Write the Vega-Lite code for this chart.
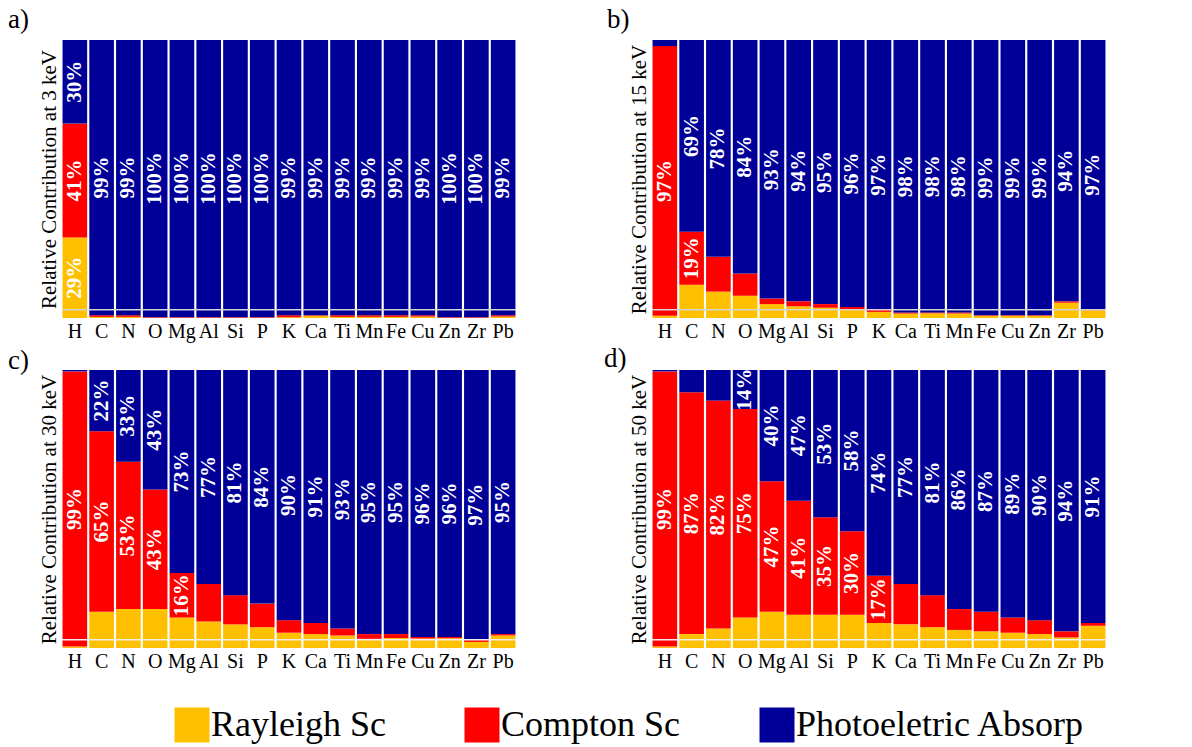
{
  "$schema": "https://vega.github.io/schema/vega-lite/v6.json",
  "background": "white",
  "padding": {"left": 8, "top": 6, "right": 5, "bottom": 5},
  "config": {
    "font": "Liberation Serif",
    "view": {"stroke": null},
    "axis": {"labelFont": "Liberation Serif", "titleFont": "Liberation Serif", "labelColor": "black", "titleColor": "black"},
    "title": {"font": "Liberation Serif", "color": "black", "fontWeight": "normal"}
  },
  "datasets": {
    "contrib": [
      {"p": "a", "el": "H", "R": 0.29, "C": 0.41, "P": 0.30, "lab": "RCP"},
      {"p": "a", "el": "C", "R": 0.004, "C": 0.006, "P": 0.99, "lab": "P"},
      {"p": "a", "el": "N", "R": 0.004, "C": 0.006, "P": 0.99, "lab": "P"},
      {"p": "a", "el": "O", "R": 0.001, "C": 0.002, "P": 0.997, "lab": "P"},
      {"p": "a", "el": "Mg", "R": 0.001, "C": 0.002, "P": 0.997, "lab": "P"},
      {"p": "a", "el": "Al", "R": 0.001, "C": 0.002, "P": 0.997, "lab": "P"},
      {"p": "a", "el": "Si", "R": 0.001, "C": 0.002, "P": 0.997, "lab": "P"},
      {"p": "a", "el": "P", "R": 0.001, "C": 0.002, "P": 0.997, "lab": "P"},
      {"p": "a", "el": "K", "R": 0.003, "C": 0.007, "P": 0.99, "lab": "P"},
      {"p": "a", "el": "Ca", "R": 0.008, "C": 0.002, "P": 0.99, "lab": "P"},
      {"p": "a", "el": "Ti", "R": 0.004, "C": 0.006, "P": 0.99, "lab": "P"},
      {"p": "a", "el": "Mn", "R": 0.004, "C": 0.006, "P": 0.99, "lab": "P"},
      {"p": "a", "el": "Fe", "R": 0.004, "C": 0.006, "P": 0.99, "lab": "P"},
      {"p": "a", "el": "Cu", "R": 0.005, "C": 0.005, "P": 0.99, "lab": "P"},
      {"p": "a", "el": "Zn", "R": 0.001, "C": 0.002, "P": 0.997, "lab": "P"},
      {"p": "a", "el": "Zr", "R": 0.001, "C": 0.002, "P": 0.997, "lab": "P"},
      {"p": "a", "el": "Pb", "R": 0.005, "C": 0.005, "P": 0.99, "lab": "P"},

      {"p": "b", "el": "H", "R": 0.008, "C": 0.97, "P": 0.022, "lab": "C"},
      {"p": "b", "el": "C", "R": 0.12, "C": 0.19, "P": 0.69, "lab": "CP"},
      {"p": "b", "el": "N", "R": 0.095, "C": 0.125, "P": 0.78, "lab": "P"},
      {"p": "b", "el": "O", "R": 0.08, "C": 0.08, "P": 0.84, "lab": "P"},
      {"p": "b", "el": "Mg", "R": 0.05, "C": 0.02, "P": 0.93, "lab": "P"},
      {"p": "b", "el": "Al", "R": 0.042, "C": 0.018, "P": 0.94, "lab": "P"},
      {"p": "b", "el": "Si", "R": 0.037, "C": 0.013, "P": 0.95, "lab": "P"},
      {"p": "b", "el": "P", "R": 0.032, "C": 0.008, "P": 0.96, "lab": "P"},
      {"p": "b", "el": "K", "R": 0.022, "C": 0.008, "P": 0.97, "lab": "P"},
      {"p": "b", "el": "Ca", "R": 0.016, "C": 0.004, "P": 0.98, "lab": "P"},
      {"p": "b", "el": "Ti", "R": 0.017, "C": 0.003, "P": 0.98, "lab": "P"},
      {"p": "b", "el": "Mn", "R": 0.016, "C": 0.004, "P": 0.98, "lab": "P"},
      {"p": "b", "el": "Fe", "R": 0.008, "C": 0.002, "P": 0.99, "lab": "P"},
      {"p": "b", "el": "Cu", "R": 0.008, "C": 0.002, "P": 0.99, "lab": "P"},
      {"p": "b", "el": "Zn", "R": 0.008, "C": 0.002, "P": 0.99, "lab": "P"},
      {"p": "b", "el": "Zr", "R": 0.055, "C": 0.005, "P": 0.94, "lab": "P"},
      {"p": "b", "el": "Pb", "R": 0.028, "C": 0.002, "P": 0.97, "lab": "P"},

      {"p": "c", "el": "H", "R": 0.005, "C": 0.99, "P": 0.005, "lab": "C"},
      {"p": "c", "el": "C", "R": 0.13, "C": 0.65, "P": 0.22, "lab": "CP"},
      {"p": "c", "el": "N", "R": 0.14, "C": 0.53, "P": 0.33, "lab": "CP"},
      {"p": "c", "el": "O", "R": 0.14, "C": 0.43, "P": 0.43, "lab": "CP"},
      {"p": "c", "el": "Mg", "R": 0.11, "C": 0.16, "P": 0.73, "lab": "CP"},
      {"p": "c", "el": "Al", "R": 0.095, "C": 0.135, "P": 0.77, "lab": "P"},
      {"p": "c", "el": "Si", "R": 0.085, "C": 0.105, "P": 0.81, "lab": "P"},
      {"p": "c", "el": "P", "R": 0.075, "C": 0.085, "P": 0.84, "lab": "P"},
      {"p": "c", "el": "K", "R": 0.055, "C": 0.045, "P": 0.90, "lab": "P"},
      {"p": "c", "el": "Ca", "R": 0.05, "C": 0.04, "P": 0.91, "lab": "P"},
      {"p": "c", "el": "Ti", "R": 0.045, "C": 0.025, "P": 0.93, "lab": "P"},
      {"p": "c", "el": "Mn", "R": 0.033, "C": 0.017, "P": 0.95, "lab": "P"},
      {"p": "c", "el": "Fe", "R": 0.036, "C": 0.014, "P": 0.95, "lab": "P"},
      {"p": "c", "el": "Cu", "R": 0.034, "C": 0.006, "P": 0.96, "lab": "P"},
      {"p": "c", "el": "Zn", "R": 0.035, "C": 0.005, "P": 0.96, "lab": "P"},
      {"p": "c", "el": "Zr", "R": 0.022, "C": 0.008, "P": 0.97, "lab": "P"},
      {"p": "c", "el": "Pb", "R": 0.045, "C": 0.005, "P": 0.95, "lab": "P"},

      {"p": "d", "el": "H", "R": 0.005, "C": 0.99, "P": 0.005, "lab": "C"},
      {"p": "d", "el": "C", "R": 0.05, "C": 0.87, "P": 0.08, "lab": "C"},
      {"p": "d", "el": "N", "R": 0.07, "C": 0.82, "P": 0.11, "lab": "C"},
      {"p": "d", "el": "O", "R": 0.11, "C": 0.75, "P": 0.14, "lab": "CP"},
      {"p": "d", "el": "Mg", "R": 0.13, "C": 0.47, "P": 0.40, "lab": "CP"},
      {"p": "d", "el": "Al", "R": 0.12, "C": 0.41, "P": 0.47, "lab": "CP"},
      {"p": "d", "el": "Si", "R": 0.12, "C": 0.35, "P": 0.53, "lab": "CP"},
      {"p": "d", "el": "P", "R": 0.12, "C": 0.30, "P": 0.58, "lab": "CP"},
      {"p": "d", "el": "K", "R": 0.09, "C": 0.17, "P": 0.74, "lab": "CP"},
      {"p": "d", "el": "Ca", "R": 0.085, "C": 0.145, "P": 0.77, "lab": "P"},
      {"p": "d", "el": "Ti", "R": 0.075, "C": 0.115, "P": 0.81, "lab": "P"},
      {"p": "d", "el": "Mn", "R": 0.065, "C": 0.075, "P": 0.86, "lab": "P"},
      {"p": "d", "el": "Fe", "R": 0.06, "C": 0.07, "P": 0.87, "lab": "P"},
      {"p": "d", "el": "Cu", "R": 0.055, "C": 0.055, "P": 0.89, "lab": "P"},
      {"p": "d", "el": "Zn", "R": 0.05, "C": 0.05, "P": 0.90, "lab": "P"},
      {"p": "d", "el": "Zr", "R": 0.038, "C": 0.022, "P": 0.94, "lab": "P"},
      {"p": "d", "el": "Pb", "R": 0.08, "C": 0.01, "P": 0.91, "lab": "P"}
    ]
  },
  "columns": 2,
  "spacing": {"row": 4, "column": 87},
  "concat": [
    {
      "title": {"text": "a)", "anchor": "start", "frame": "group", "dx": -54, "offset": 6, "fontSize": 27, "font": "Liberation Serif"},
      "width": 454, "height": 278,
      "data": {"name": "contrib"},
      "transform": [
        {"filter": "datum.p == 'a'"},
        {"fold": ["R", "C", "P"], "as": ["type", "v"]},
        {"stack": "v", "groupby": ["el"], "as": ["y0", "y1"]}
      ],
      "layer": [
        {
          "mark": {"type": "bar"},
          "encoding": {
            "x": {"field": "el", "type": "nominal", "sort": null, "scale": {"paddingInner": 0.08, "paddingOuter": 0.02},
                  "axis": {"title": null, "labelAngle": 0, "labelFontSize": 20, "labelFont": "Liberation Serif", "labelColor": "black", "ticks": false, "domain": false, "labelPadding": 3}},
            "y": {"field": "y0", "type": "quantitative", "scale": {"domain": [0, 1], "nice": false},
                  "title": "Relative Contribution at 3 keV",
                  "axis": {"labels": false, "ticks": false, "domain": false, "grid": false, "titleFont": "Liberation Serif", "titleColor": "black", "titleFontSize": 21, "titleFontWeight": "normal", "titlePadding": 3}},
            "y2": {"field": "y1"},
            "color": {"field": "type", "type": "nominal",
                      "scale": {"domain": ["R", "C", "P"], "range": ["#FFC000", "#FF0000", "#000099"]},
                      "legend": {"orient": "none", "legendX": 112, "legendY": 667, "direction": "horizontal", "title": null,
                                 "symbolType": "square", "symbolSize": 1225, "symbolStrokeWidth": 0, "symbolOpacity": 1,
                                 "labelFontSize": 36, "labelFont": "Liberation Serif", "labelColor": "black", "labelOffset": 1,
                                 "columnPadding": 78, "labelLimit": 400,
                                 "labelExpr": "datum.label == 'R' ? 'Rayleigh Sc' : datum.label == 'C' ? 'Compton Sc' : 'Photoeletric Absorp'"}}
          }
        },
        {
          "transform": [
            {"filter": "indexof(datum.lab, datum.type) >= 0"},
            {"fold": ["y0", "y1"], "as": ["edge", "pos"]}
          ],
          "mark": {"type": "text", "angle": 270, "color": "white", "font": "Liberation Serif", "fontWeight": "bold", "fontSize": 21, "align": "center", "baseline": "middle"},
          "encoding": {
            "x": {"field": "el", "type": "nominal", "sort": null},
            "y": {"aggregate": "mean", "field": "pos", "type": "quantitative", "title": "Relative Contribution at 3 keV"},
            "text": {"field": "v", "type": "quantitative", "format": ".0%"},
            "detail": {"field": "type"}
          }
        },
        {
          "data": {"values": [{}]},
          "mark": {"type": "rule", "color": "#d4d4d4", "strokeWidth": 1.5},
          "encoding": {"y": {"datum": 0.03}}
        }
      ]
    },
    {
      "title": {"text": "b)", "anchor": "start", "frame": "group", "dx": -45, "offset": 6, "fontSize": 27, "font": "Liberation Serif"},
      "width": 454, "height": 278,
      "data": {"name": "contrib"},
      "transform": [
        {"filter": "datum.p == 'b'"},
        {"fold": ["R", "C", "P"], "as": ["type", "v"]},
        {"stack": "v", "groupby": ["el"], "as": ["y0", "y1"]}
      ],
      "layer": [
        {
          "mark": {"type": "bar"},
          "encoding": {
            "x": {"field": "el", "type": "nominal", "sort": null, "scale": {"paddingInner": 0.08, "paddingOuter": 0.02},
                  "axis": {"title": null, "labelAngle": 0, "labelFontSize": 20, "labelFont": "Liberation Serif", "labelColor": "black", "ticks": false, "domain": false, "labelPadding": 3}},
            "y": {"field": "y0", "type": "quantitative", "scale": {"domain": [0, 1], "nice": false},
                  "title": "Relative Contribution at 15 keV",
                  "axis": {"labels": false, "ticks": false, "domain": false, "grid": false, "titleFont": "Liberation Serif", "titleColor": "black", "titleFontSize": 21, "titleFontWeight": "normal", "titlePadding": 3}},
            "y2": {"field": "y1"},
            "color": {"field": "type", "type": "nominal",
                      "scale": {"domain": ["R", "C", "P"], "range": ["#FFC000", "#FF0000", "#000099"]},
                      "legend": {"orient": "none", "legendX": 112, "legendY": 667, "direction": "horizontal", "title": null,
                                 "symbolType": "square", "symbolSize": 1225, "symbolStrokeWidth": 0, "symbolOpacity": 1,
                                 "labelFontSize": 36, "labelFont": "Liberation Serif", "labelColor": "black", "labelOffset": 1,
                                 "columnPadding": 78, "labelLimit": 400,
                                 "labelExpr": "datum.label == 'R' ? 'Rayleigh Sc' : datum.label == 'C' ? 'Compton Sc' : 'Photoeletric Absorp'"}}
          }
        },
        {
          "transform": [
            {"filter": "indexof(datum.lab, datum.type) >= 0"},
            {"fold": ["y0", "y1"], "as": ["edge", "pos"]}
          ],
          "mark": {"type": "text", "angle": 270, "color": "white", "font": "Liberation Serif", "fontWeight": "bold", "fontSize": 21, "align": "center", "baseline": "middle"},
          "encoding": {
            "x": {"field": "el", "type": "nominal", "sort": null},
            "y": {"aggregate": "mean", "field": "pos", "type": "quantitative", "title": "Relative Contribution at 15 keV"},
            "text": {"field": "v", "type": "quantitative", "format": ".0%"},
            "detail": {"field": "type"}
          }
        },
        {
          "data": {"values": [{}]},
          "mark": {"type": "rule", "color": "#d4d4d4", "strokeWidth": 1.5},
          "encoding": {"y": {"datum": 0.03}}
        }
      ]
    },
    {
      "title": {"text": "c)", "anchor": "start", "frame": "group", "dx": -54, "offset": -5, "fontSize": 27, "font": "Liberation Serif"},
      "width": 454, "height": 278,
      "data": {"name": "contrib"},
      "transform": [
        {"filter": "datum.p == 'c'"},
        {"fold": ["R", "C", "P"], "as": ["type", "v"]},
        {"stack": "v", "groupby": ["el"], "as": ["y0", "y1"]}
      ],
      "layer": [
        {
          "mark": {"type": "bar"},
          "encoding": {
            "x": {"field": "el", "type": "nominal", "sort": null, "scale": {"paddingInner": 0.08, "paddingOuter": 0.02},
                  "axis": {"title": null, "labelAngle": 0, "labelFontSize": 20, "labelFont": "Liberation Serif", "labelColor": "black", "ticks": false, "domain": false, "labelPadding": 3}},
            "y": {"field": "y0", "type": "quantitative", "scale": {"domain": [0, 1], "nice": false},
                  "title": "Relative Contribution at 30 keV",
                  "axis": {"labels": false, "ticks": false, "domain": false, "grid": false, "titleFont": "Liberation Serif", "titleColor": "black", "titleFontSize": 21, "titleFontWeight": "normal", "titlePadding": 3}},
            "y2": {"field": "y1"},
            "color": {"field": "type", "type": "nominal",
                      "scale": {"domain": ["R", "C", "P"], "range": ["#FFC000", "#FF0000", "#000099"]},
                      "legend": {"orient": "none", "legendX": 112, "legendY": 667, "direction": "horizontal", "title": null,
                                 "symbolType": "square", "symbolSize": 1225, "symbolStrokeWidth": 0, "symbolOpacity": 1,
                                 "labelFontSize": 36, "labelFont": "Liberation Serif", "labelColor": "black", "labelOffset": 1,
                                 "columnPadding": 78, "labelLimit": 400,
                                 "labelExpr": "datum.label == 'R' ? 'Rayleigh Sc' : datum.label == 'C' ? 'Compton Sc' : 'Photoeletric Absorp'"}}
          }
        },
        {
          "transform": [
            {"filter": "indexof(datum.lab, datum.type) >= 0"},
            {"fold": ["y0", "y1"], "as": ["edge", "pos"]}
          ],
          "mark": {"type": "text", "angle": 270, "color": "white", "font": "Liberation Serif", "fontWeight": "bold", "fontSize": 21, "align": "center", "baseline": "middle"},
          "encoding": {
            "x": {"field": "el", "type": "nominal", "sort": null},
            "y": {"aggregate": "mean", "field": "pos", "type": "quantitative", "title": "Relative Contribution at 30 keV"},
            "text": {"field": "v", "type": "quantitative", "format": ".0%"},
            "detail": {"field": "type"}
          }
        },
        {
          "data": {"values": [{}]},
          "mark": {"type": "rule", "color": "#eeeeee", "strokeWidth": 1.5},
          "encoding": {"y": {"datum": 0.03}}
        }
      ]
    },
    {
      "title": {"text": "d)", "anchor": "start", "frame": "group", "dx": -48, "offset": -5, "fontSize": 27, "font": "Liberation Serif"},
      "width": 454, "height": 278,
      "data": {"name": "contrib"},
      "transform": [
        {"filter": "datum.p == 'd'"},
        {"fold": ["R", "C", "P"], "as": ["type", "v"]},
        {"stack": "v", "groupby": ["el"], "as": ["y0", "y1"]}
      ],
      "layer": [
        {
          "mark": {"type": "bar"},
          "encoding": {
            "x": {"field": "el", "type": "nominal", "sort": null, "scale": {"paddingInner": 0.08, "paddingOuter": 0.02},
                  "axis": {"title": null, "labelAngle": 0, "labelFontSize": 20, "labelFont": "Liberation Serif", "labelColor": "black", "ticks": false, "domain": false, "labelPadding": 3}},
            "y": {"field": "y0", "type": "quantitative", "scale": {"domain": [0, 1], "nice": false},
                  "title": "Relative Contribution at 50 keV",
                  "axis": {"labels": false, "ticks": false, "domain": false, "grid": false, "titleFont": "Liberation Serif", "titleColor": "black", "titleFontSize": 21, "titleFontWeight": "normal", "titlePadding": 3}},
            "y2": {"field": "y1"},
            "color": {"field": "type", "type": "nominal",
                      "scale": {"domain": ["R", "C", "P"], "range": ["#FFC000", "#FF0000", "#000099"]},
                      "legend": {"orient": "none", "legendX": 112, "legendY": 667, "direction": "horizontal", "title": null,
                                 "symbolType": "square", "symbolSize": 1225, "symbolStrokeWidth": 0, "symbolOpacity": 1,
                                 "labelFontSize": 36, "labelFont": "Liberation Serif", "labelColor": "black", "labelOffset": 1,
                                 "columnPadding": 78, "labelLimit": 400,
                                 "labelExpr": "datum.label == 'R' ? 'Rayleigh Sc' : datum.label == 'C' ? 'Compton Sc' : 'Photoeletric Absorp'"}}
          }
        },
        {
          "transform": [
            {"filter": "indexof(datum.lab, datum.type) >= 0"},
            {"fold": ["y0", "y1"], "as": ["edge", "pos"]}
          ],
          "mark": {"type": "text", "angle": 270, "color": "white", "font": "Liberation Serif", "fontWeight": "bold", "fontSize": 21, "align": "center", "baseline": "middle"},
          "encoding": {
            "x": {"field": "el", "type": "nominal", "sort": null},
            "y": {"aggregate": "mean", "field": "pos", "type": "quantitative", "title": "Relative Contribution at 50 keV"},
            "text": {"field": "v", "type": "quantitative", "format": ".0%"},
            "detail": {"field": "type"}
          }
        },
        {
          "data": {"values": [{}]},
          "mark": {"type": "rule", "color": "#eeeeee", "strokeWidth": 1.5},
          "encoding": {"y": {"datum": 0.03}}
        }
      ]
    }
  ]
}
